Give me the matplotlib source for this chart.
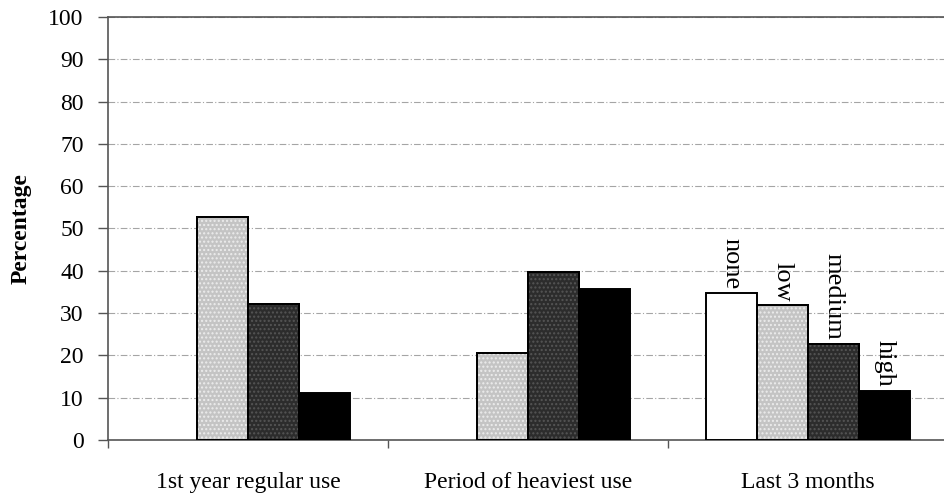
import matplotlib
matplotlib.use("Agg")
import matplotlib.pyplot as plt
import numpy as np

categories = ["1st year regular use", "Period of heaviest use", "Last 3 months"]
series_names = ["none", "low", "medium", "high"]
none_vals = [0, 0, 34.7]
low_vals = [52.7, 20.6, 31.8]
medium_vals = [32.2, 39.6, 22.7]
high_vals = [11.2, 35.8, 11.5]
yticks = list(range(0, 101, 10))

plt.rcParams['font.family'] = ['Liberation Serif', 'DejaVu Serif']

fig = plt.figure(figsize=(9.45, 4.94), dpi=100)
ax = fig.add_axes([108/945, 1-440/494, 840/945, (440-17)/494])

series = [none_vals, low_vals, medium_vals, high_vals]
colors = ['#ffffff', '#c4c4c4', '#2c2c2c', '#000000']
hatches = [None, '....', '....', None]
w = 0.1825
centers = np.arange(len(categories)) + 0.5
for i, (vals, c, h) in enumerate(zip(series, colors, hatches)):
    xs_all = centers + (i - 1.5) * w
    keep = [k for k, v in enumerate(vals) if v > 0]
    xs = xs_all[keep]
    hs = [vals[k] for k in keep]
    ax.bar(xs, hs, width=w, color=c, edgecolor='black', linewidth=1.4, zorder=3)
    if h is not None:
        hc = '#ececec' if i == 1 else '#555555'
        ax.bar(xs, hs, width=w, color='none', edgecolor=hc, hatch=h, linewidth=0, zorder=3.5)
        ax.bar(xs, hs, width=w, color='none', edgecolor='black', linewidth=1.4, zorder=4)
    # label only last category
    ax.annotate(series_names[i], (xs_all[-1], vals[-1]),
                xytext=(0, 3), textcoords='offset points', rotation=-90,
                ha='center', va='bottom', fontsize=19)

ax.set_ylim(0, 100)
ax.set_xlim(0, 3)
ax.set_yticks(yticks)
ax.set_yticklabels([str(v) for v in yticks], fontsize=17)
ax.set_xticks([0, 1, 2, 3])
ax.set_xticklabels([])
ax.set_xticks(centers, minor=True)
ax.set_xticklabels(categories, minor=True, fontsize=17)
ax.tick_params(axis='x', which='minor', length=0, pad=23)
ax.tick_params(axis='x', which='major', direction='out', length=6, width=1, color='#555555')
ax.tick_params(axis='y', direction='out', length=7.5, width=1, color='#555555', pad=10)

ax.yaxis.grid(True, color='#a5a5a5', linestyle=(0, (6, 2, 1, 2)), linewidth=0.8, zorder=0)
ax.set_axisbelow(True)
for s in ['left', 'bottom', 'top']:
    ax.spines[s].set_color('#555555')
    ax.spines[s].set_linewidth(1.2)
ax.spines['right'].set_visible(False)

ax.set_ylabel('Percentage', fontsize=17, fontweight='bold', labelpad=12)

fig.savefig('out.png', dpi=100)
